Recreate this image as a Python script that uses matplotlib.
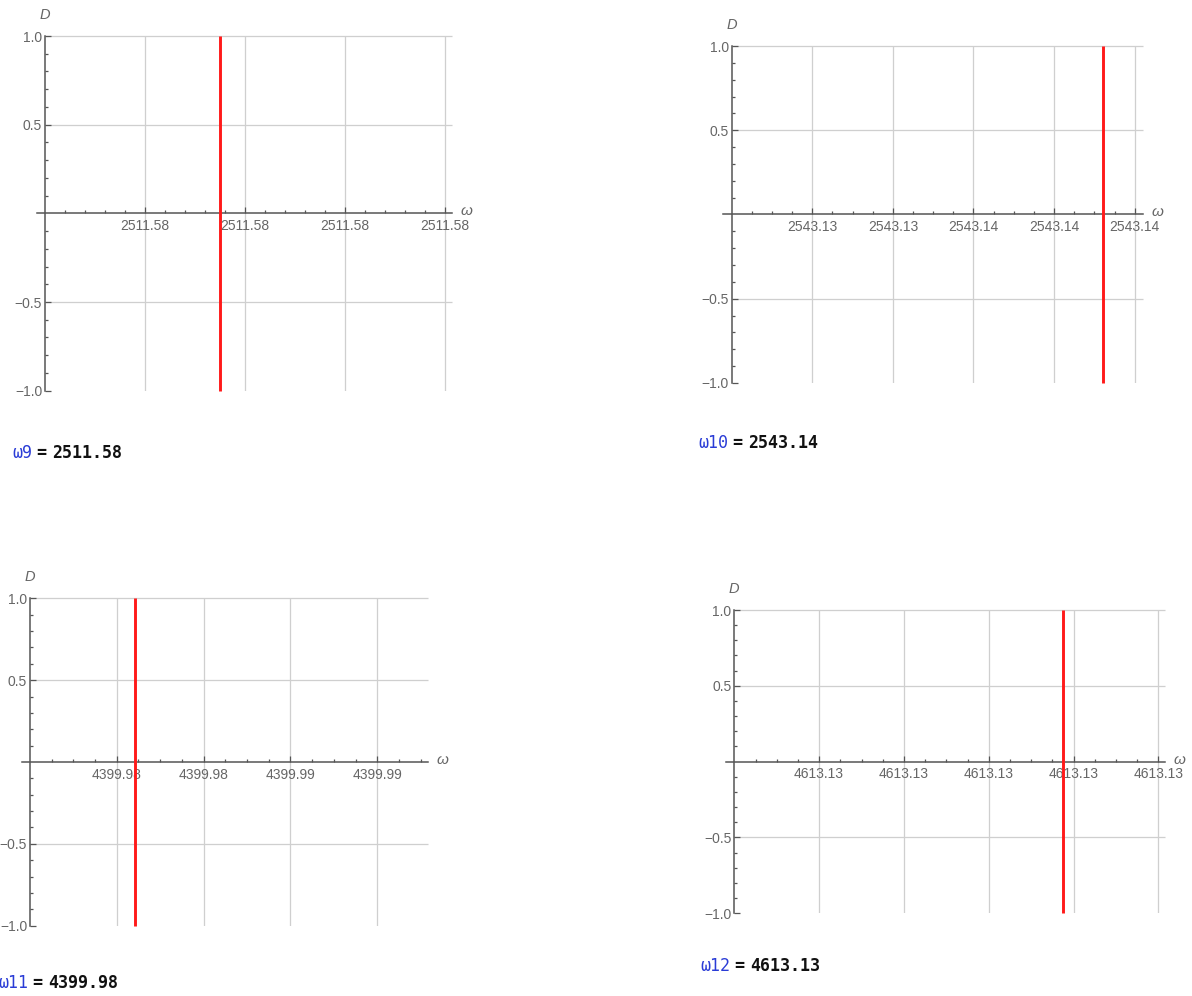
import numpy as np
import matplotlib
matplotlib.use("Agg")
import matplotlib.pyplot as plt

# roots of the frequency determinant, one panel each
NAMES = ["ω9", "ω10", "ω11", "ω12"]
ROOTS = [2511.57875, 2543.13921, 4399.98242, 4613.13176]

# x axis: origin value, major step, number of labelled ticks, minor divisions
X_ORIGIN = [2511.577, 2543.130, 4399.980, 4613.124]
X_STEP = [0.001, 0.002, 0.002, 0.002]
N_MAJOR = [4, 5, 4, 5]
N_MINOR = [5, 4, 4, 4]

Y_TICKS = [-1.0, -0.5, 0.5, 1.0]
Y_GRID = [-0.5, 0.5, 1.0]

W, H = 1192, 996
# panel geometry in pixels: x-axis left end, y-axis x, x-axis right end, top, bottom, px per step
PANELS = [
    (37, 45, 451.7, 36, 390.7, 100.0),
    (723, 731.7, 1143, 46, 383, 80.6),
    (22, 30, 427.7, 598.3, 925.7, 86.8),
    (725.7, 734.3, 1165, 610, 913.3, 84.8),
]
# where the "name = value" line sits (left x, centre y) in pixels
LABEL_POS = [(12, 453), (698, 443), (-2, 983), (700, 966)]

AXIS_COL = "#555555"
TICK_COL = "#666666"
GRID_COL = "#cfcfcf"
SANS = "Liberation Sans"
MONO = "DejaVu Sans Mono"

fig = plt.figure(figsize=(W / 100, H / 100), dpi=100)
fig.patch.set_facecolor("white")

for i in range(4):
    left, ox, right, top, bottom, unit = PANELS[i]
    x0, step = X_ORIGIN[i], X_STEP[i]
    ax = fig.add_axes([left / W, 1 - bottom / H, (right - left) / W, (bottom - top) / H])
    ax.set_facecolor("none")

    xmin = x0 + (left - ox) / unit * step
    xmax = x0 + (right - ox) / unit * step
    ax.set_xlim(xmin, xmax)
    ax.set_ylim(-1, 1)

    for s in ("top", "right"):
        ax.spines[s].set_visible(False)
    ax.spines["left"].set_position(("data", x0))
    ax.spines["bottom"].set_position(("data", 0))
    for s in ("left", "bottom"):
        ax.spines[s].set_color(AXIS_COL)
        ax.spines[s].set_linewidth(1.1)

    majors = [x0 + k * step for k in range(1, N_MAJOR[i] + 1)]
    mstep = step / N_MINOR[i]
    minors = [x0 + k * mstep for k in range(int((xmax - x0) / mstep) + 1)
              if k % N_MINOR[i] != 0]
    ax.set_xticks(majors)
    ax.set_xticks(minors, minor=True)
    ax.set_xticklabels([f"{v:.2f}" for v in majors])

    ax.set_yticks(Y_TICKS)
    ax.set_yticks([v / 10 for v in range(-9, 10) if v % 5 != 0], minor=True)
    ax.set_yticklabels([f"{v:.1f}".replace("-", "\u2212") for v in Y_TICKS])

    ax.tick_params(which="both", direction="in", color=AXIS_COL, width=0.9)
    ax.tick_params(which="major", length=4.3)
    ax.tick_params(which="minor", length=2.5)
    ax.tick_params(axis="x", which="major", pad=4, labelsize=10, labelcolor=TICK_COL)
    ax.tick_params(axis="y", which="major", pad=2, labelsize=10, labelcolor=TICK_COL)
    for lab in ax.get_xticklabels() + ax.get_yticklabels():
        lab.set_fontfamily(SANS)

    # grid: vertical lines at labelled ticks, horizontal from the y axis outwards
    ax.grid(axis="x", which="major", color=GRID_COL, lw=0.9)
    ax.hlines(Y_GRID, x0, xmax, color=GRID_COL, lw=0.9, clip_on=False, zorder=0.5)

    # root marker
    ax.vlines(ROOTS[i], -1, 1, color="#ff1a1a", lw=2.1, zorder=5, clip_on=False)

    ax.annotate("D", xy=(x0, 1), xycoords="data", xytext=(0, 15),
                textcoords="offset points", ha="center", va="center",
                fontsize=10.5, style="italic", color=TICK_COL, family=SANS,
                annotation_clip=False)
    ax.annotate("ω", xy=(xmax, 0), xycoords="data", xytext=(10.5, 1.5),
                textcoords="offset points", ha="center", va="center",
                fontsize=11, style="italic", color=TICK_COL, family=SANS,
                annotation_clip=False)

    lx, ly = LABEL_POS[i]
    name = ax.annotate(NAMES[i], xy=(lx / W, 1 - ly / H), xycoords="figure fraction",
                       ha="left", va="center", fontsize=12, color="#2a3cd6",
                       family=MONO, annotation_clip=False)
    eq = ax.annotate("=", xy=(1, 0.5), xycoords=name, xytext=(3, 0),
                     textcoords="offset points", ha="left", va="center",
                     fontsize=12, color="#111111", family=MONO,
                     weight="bold", annotation_clip=False)
    ax.annotate(f"{ROOTS[i]:.2f}", xy=(1, 0.5), xycoords=eq, xytext=(4, 0),
                textcoords="offset points", ha="left", va="center",
                fontsize=12, color="#111111", family=MONO,
                weight="bold", annotation_clip=False)

fig.savefig("out.png", dpi=100, facecolor="white")
